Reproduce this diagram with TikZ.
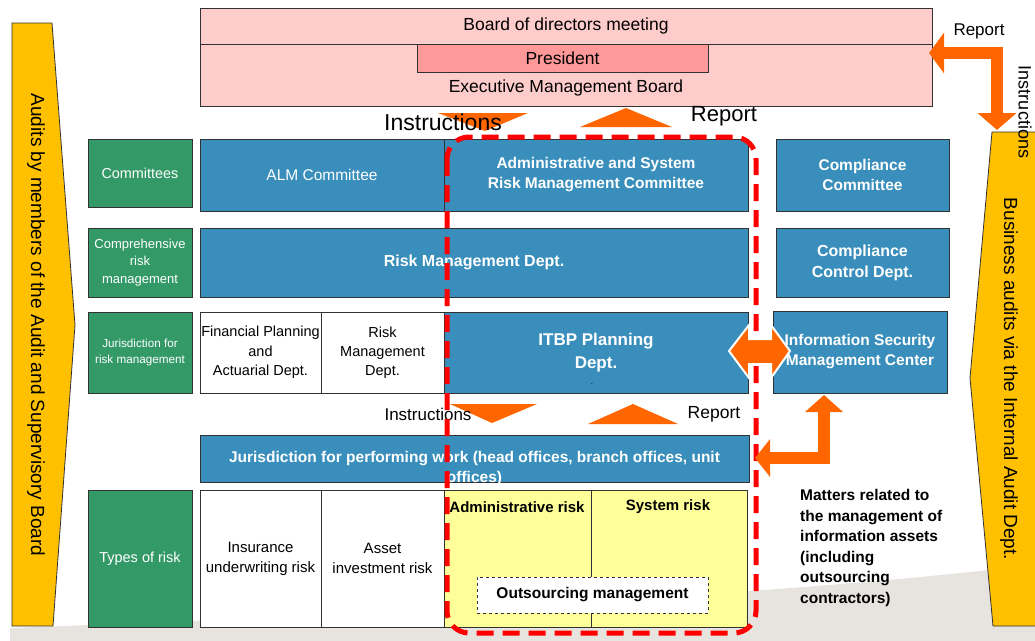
\documentclass[tikz,border=0pt]{standalone}
\usepackage{fontspec}
\setmainfont{Liberation Sans}
\usetikzlibrary{arrows.meta}
\definecolor{cblue}{RGB}{57,142,187}
\definecolor{cgreen}{RGB}{51,153,102}
\definecolor{cpink}{RGB}{255,204,204}
\definecolor{cpres}{RGB}{255,153,153}
\definecolor{cgold}{RGB}{255,192,0}
\definecolor{cyel}{RGB}{255,255,153}
\definecolor{corange}{RGB}{255,102,0}
\definecolor{cred}{RGB}{255,0,0}
\definecolor{cfloor}{RGB}{231,228,224}
\definecolor{cline}{RGB}{50,50,50}
\newcommand{\fsz}[2]{\fontsize{#1pt}{#2pt}\selectfont}
\begin{document}
\begin{tikzpicture}[x=1pt,y=-1pt,
  box/.style={draw=cline, line width=0.9pt, inner sep=0pt, outer sep=0pt, anchor=north west, align=center},
  bluebox/.style={box, fill=cblue, text=white},
  greenbox/.style={box, fill=cgreen, text=white},
  whitebox/.style={box, fill=white, text=black},
  yelbox/.style={box, fill=cyel},
  pinkbox/.style={box, fill=cpink},
  lbl/.style={inner sep=0pt, align=center},
  tri/.style={fill=corange},
  goldarrow/.style={fill=cgold, draw=cline, line width=0.8pt},
  orangeconn/.style={draw=corange, line width=12pt},
  redframe/.style={draw=cred, line width=5pt, dash pattern=on 17pt off 9pt, rounded corners=22pt},
]
\useasboundingbox (0,0) rectangle (1035,640);
\clip (0,0) rectangle (1035,640);
\fill[white] (0,0) rectangle (1035,640);
% floor
\fill[cfloor] (10,628) .. controls (400,614) and (800,594) .. (1040,564) -- (1040,645) -- (10,645) -- cycle;

% side audit arrows
\filldraw[goldarrow] (12,23) -- (52,23) -- (75,325) -- (53,626) -- (12,626) -- cycle;
\node[lbl, rotate=-90, font=\fsz{19}{22}] (auditL) at (36,325) {Audits by members of the Audit and Supervisory Board};
\filldraw[goldarrow] (992,132) -- (1045,132) -- (1045,626) -- (993,626) -- (970,378) -- cycle;
\node[lbl, rotate=-90, font=\fsz{19}{22}] (auditR) at (1009,379) {Business audits via the Internal Audit Dept.};

% board
\node[pinkbox, minimum width=732pt, minimum height=36pt, font=\fsz{17.5}{20}] (board) at (200,8) {Board of directors meeting};
\node[pinkbox, minimum width=732pt, minimum height=62pt] (exec) at (200,44) {};
\node[box, fill=cpres, minimum width=291pt, minimum height=28pt, font=\fsz{17.5}{20}] (pres) at (417,44) {President};
\node[lbl, font=\fsz{17.5}{20}] (execlbl) at (566,88) {Executive Management Board};

% top triangles
\fill[tri] (438,113) -- (528,113) -- (485,131) -- cycle;
\fill[tri] (580,127) -- (672,127) -- (626,108) -- cycle;
\node[lbl, font=\fsz{23}{26}] (instr1) at (443,122) {Instructions};
\node[lbl, font=\fsz{22}{25}] (rep1) at (724,116) {Report};

% row 1
\node[greenbox, minimum width=104pt, minimum height=68pt, font=\fsz{14.4}{17}] (comm) at (88,139) {Committees};
\node[bluebox, minimum width=244pt, minimum height=72pt, font=\fsz{15.5}{18}] (alm) at (200,139) {ALM Committee};
\node[bluebox, minimum width=304pt, minimum height=72pt, font=\fsz{15.5}{20}\bfseries] (admin) at (444,139) {Administrative and System\\Risk Management Committee};
\node[bluebox, minimum width=173pt, minimum height=72pt, font=\fsz{15.5}{20}\bfseries] (compc) at (776,139) {Compliance\\Committee};

% row 2
\node[greenbox, minimum width=104pt, minimum height=69pt, font=\fsz{13}{17.5}] (compr) at (88,228) {Comprehensive\\risk\\management};
\node[bluebox, minimum width=548pt, minimum height=69pt, font=\fsz{16}{20}\bfseries] (rmd) at (200,228) {Risk Management Dept.};
\node[bluebox, minimum width=173pt, minimum height=69pt, font=\fsz{16}{21}\bfseries] (ccd) at (776,228) {Compliance\\Control Dept.};

% row 3
\node[greenbox, minimum width=104pt, minimum height=81pt, font=\fsz{11.7}{16}] (jur) at (88,312) {Jurisdiction for\\risk management};
\node[whitebox, minimum width=121pt, minimum height=81pt, font=\fsz{14.5}{19.5}] (fin) at (200,312) {Financial Planning\\and\\Actuarial Dept.};
\node[whitebox, minimum width=123pt, minimum height=81pt, font=\fsz{14.5}{19}] (rmd2) at (321,312) {Risk\\Management\\Dept.};
\node[bluebox, minimum width=304pt, minimum height=81pt, font=\fsz{17}{23}\bfseries] (itbp) at (444,312) {ITBP Planning\\Dept.};
\node[lbl, font=\fsz{8}{8}] (itbpdot) at (592,384) {.};
\node[bluebox, minimum width=174pt, minimum height=82pt, font=\fsz{15.5}{20}\bfseries] (isec) at (773,311) {Information Security\\Management Center};

% middle triangles
\fill[tri] (450,404) -- (537,404) -- (492,423) -- cycle;
\fill[tri] (588,424) -- (678,424) -- (633,404) -- cycle;
\node[lbl, font=\fsz{17}{20}] (instr2) at (428,414) {Instructions};
\node[lbl, font=\fsz{17.5}{20}] (rep2) at (714,414) {Report};

% row 4
\node[bluebox, minimum width=549pt, minimum height=47pt] (work) at (200,435) {};
\node[lbl, anchor=north, text=white, font=\fsz{15.5}{20.5}\bfseries] (worklbl) at (474.5,451) {Jurisdiction for performing work (head offices, branch offices, unit\\offices)};

% row 5
\node[greenbox, minimum width=104pt, minimum height=137pt, font=\fsz{14.5}{18}] (types) at (88,490) {Types of risk};
\node[whitebox, minimum width=121pt, minimum height=137pt, font=\fsz{15}{20}] (ins) at (200,490) {Insurance\\underwriting risk};
\node[whitebox, minimum width=123pt, minimum height=137pt, font=\fsz{15}{20}] (asset) at (321,490) {Asset\\investment risk};
\node[yelbox, minimum width=147pt, minimum height=137pt] (admr) at (444,490) {};
\node[yelbox, minimum width=156pt, minimum height=137pt] (sysr) at (591,490) {};
\node[lbl, font=\fsz{15}{18}\bfseries] (admrlbl) at (517,507) {Administrative risk};
\node[lbl, font=\fsz{15}{18}\bfseries] (sysrlbl) at (668,507) {System risk};
\node[box, fill=white, dashed, line width=0.9pt, minimum width=231pt, minimum height=36pt, font=\fsz{15.5}{18}\bfseries] (outs) at (477,577) {Outsourcing management};

% red dashed frame
\draw[redframe] (447,137) rectangle (756,633);

% orange connectors
\coordinate (bR) at (929,53);
\coordinate (aT) at (997,130);
\draw[orangeconn, {Triangle[length=15pt,width=40pt]}-{Triangle[length=17pt,width=38pt]}] (bR) -| (aT);
\node[lbl, font=\fsz{17}{20}] (rep3) at (979,31) {Report};
\node[lbl, rotate=-90, font=\fsz{18}{20}] (instr3) at (1025,112) {Instructions};

\coordinate (wR) at (755,458);
\coordinate (iB) at (824,395);
\draw[orangeconn, {Triangle[length=15pt,width=37pt]}-{Triangle[length=17pt,width=37pt]}] (wR) -| (iB);

\filldraw[fill=corange, draw=white, line width=2pt] (729,351) -- (749,325) -- (749,339) -- (771,339) -- (771,325) -- (790,351) -- (771,378) -- (771,364) -- (749,364) -- (749,378) -- cycle;

% matters text
\node[lbl, anchor=north west, align=left, font=\fsz{15.5}{20.6}\bfseries] (matters) at (800,489) {Matters related to\\the management of\\information assets\\(including\\outsourcing\\contractors)};
\end{tikzpicture}
\end{document}
